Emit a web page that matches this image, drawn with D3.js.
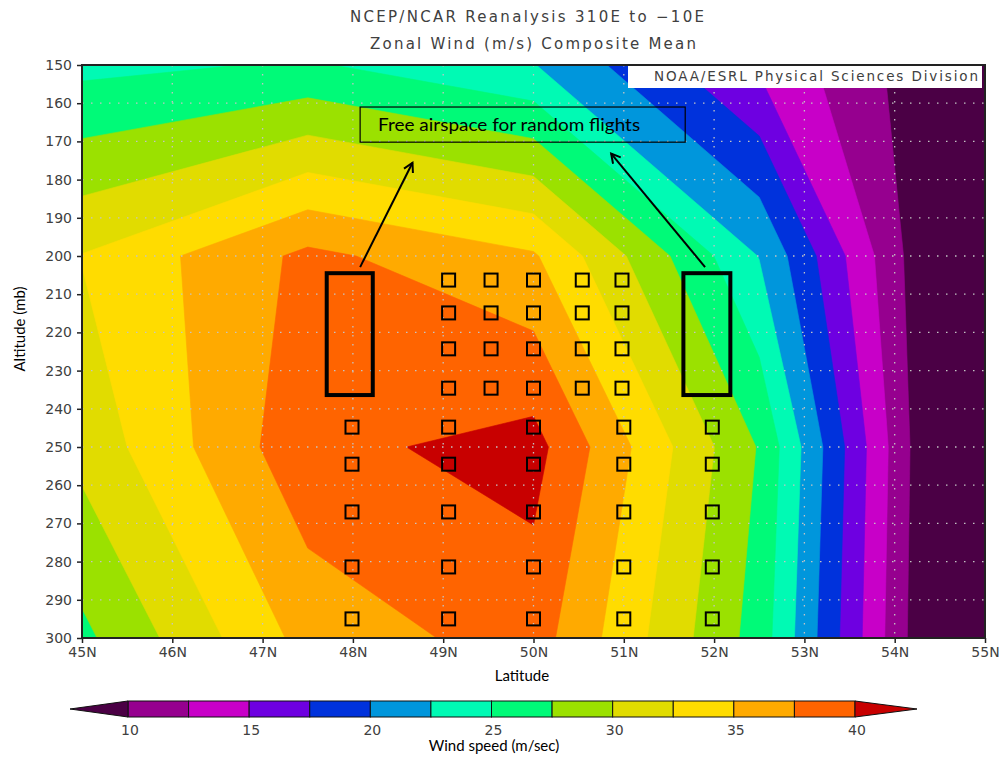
<!DOCTYPE html>
<html>
<head>
<meta charset="utf-8">
<script src="https://cdn.jsdelivr.net/npm/d3@7"></script>
<style>
body { margin: 0; background: #fff; }
svg { display: block; }
.gr { font-family: "DejaVu Sans", sans-serif; fill: #404040; }
.ann { font-family: Lato, "Open Sans", sans-serif; fill: #000; }
</style>
</head>
<body>
<script>
// page size and plot frame
const w = 1000, h = 759;
const plot = {x0: 82, x1: 985, y0: 65, y1: 638};

// reanalysis grid (2.5 deg x 50 mb), zonal wind in m/s
const lats = [45, 47.5, 50, 52.5, 55];
const levels = [150, 200, 250, 300];
const u150 = [24.3, 25.3, 22.6, 14.6, 6.3];
const u200 = [32.6, 38.1, 35.3, 22.4, 3.0];
const u250 = [30.8, 39.3, 40.9, 27.3, 1.4];
const u300 = [26.9, 35.9, 38.7, 26.4, 1.4];

// shading levels and colours (first colour is below 10, last above 40)
const thresholds = [10, 12.5, 15, 17.5, 20, 22.5, 25, 27.5, 30, 32.5, 35, 37.5, 40];
const colors = ["#4b0045", "#96008f", "#c800c8", "#6e00e1", "#0032dc", "#0096dc", "#00fab4",
                "#00fa78", "#9be100", "#e1dc00", "#ffdc00", "#ffaa00", "#ff6400", "#c80000"];
const barLabels = [10, 15, 20, 25, 30, 35, 40];

// axis ticks
const latTicks = [45, 46, 47, 48, 49, 50, 51, 52, 53, 54, 55];
const altTicks = [150, 160, 170, 180, 190, 200, 210, 220, 230, 240, 250, 260, 270, 280, 290, 300];

// annotation marks (latitude / altitude)
const upLats = [49.06, 49.53, 50.0, 50.54, 50.98];
const upAlts = [206.3, 214.9, 224.3, 234.6];
const lowLats = [47.99, 49.06, 50.0, 51.0, 51.98];
const lowAlts = [244.8, 254.5, 267.0, 281.4, 295.0];
const bigBoxLats = [[47.71, 48.22], [51.66, 52.18]];
const bigBoxAlts = [204.5, 236.4];
const arrows = [[48.08, 202.9, 48.66, 175.6], [51.9, 202.9, 50.86, 173.2]];
const noteLats = [48.08, 51.68];
const noteAlts = [161.0, 170.2];

const x = d3.scaleLinear().domain([45, 55]).range([plot.x0, plot.x1]);
const y = d3.scaleLinear().domain([150, 300]).range([plot.y0, plot.y1]);

const svg = d3.select("body").append("svg")
    .attr("width", w)
    .attr("height", h);

svg.append("defs").append("clipPath").attr("id", "clip")
  .append("rect")
    .attr("x", plot.x0).attr("y", plot.y0)
    .attr("width", plot.x1 - plot.x0).attr("height", plot.y1 - plot.y0);

// contour grid coords -> pixels (d3.contours puts value i at i + 0.5)
const gx = d3.scaleLinear().domain([0.5, lats.length - 0.5]).range([x(lats[0]), x(lats[lats.length - 1])]);
const gy = d3.scaleLinear().domain([0.5, levels.length - 0.5]).range([y(levels[0]), y(levels[levels.length - 1])]);
const proj = d3.geoTransform({
  point: function(px, py) { this.stream.point(gx(px), gy(py)); }
});
const path = d3.geoPath(proj);

const values = [].concat(u150, u200, u250, u300);
const bands = d3.contours()
    .size([lats.length, levels.length])
    .thresholds([-100].concat(thresholds))(values);

svg.append("g").attr("clip-path", "url(#clip)")
  .selectAll("path")
  .data(bands)
  .enter()
  .append("path")
    .attr("d", path)
    .attr("fill", (d, i) => colors[i])
    .attr("stroke", (d, i) => colors[i])
    .attr("stroke-width", 0.6);

// dotted grid
const grid = svg.append("g")
    .attr("stroke", "#c4c4c4")
    .attr("stroke-width", 1.3)
    .attr("stroke-dasharray", "1.5,7.5");
grid.selectAll(".gx")
  .data(latTicks.slice(1, -1))
  .enter().append("line")
    .attr("x1", d => x(d)).attr("x2", d => x(d))
    .attr("y1", plot.y0).attr("y2", plot.y1);
grid.selectAll(".gy")
  .data(altTicks.slice(1, -1))
  .enter().append("line")
    .attr("y1", d => y(d)).attr("y2", d => y(d))
    .attr("x1", plot.x0).attr("x2", plot.x1);

// axes
const yAxis = svg.append("g")
    .attr("transform", `translate(${plot.x0},0)`)
    .call(d3.axisLeft(y).tickValues(altTicks).tickSize(5).tickPadding(5));
const xAxis = svg.append("g")
    .attr("transform", `translate(0,${plot.y1})`)
    .call(d3.axisBottom(x).tickValues(latTicks).tickFormat(d => d + "N").tickSize(5).tickPadding(4));
[yAxis, xAxis].forEach(a => {
  a.select(".domain").remove();
  a.selectAll("line").attr("stroke", "#222").attr("stroke-width", 1.5);
  a.selectAll("text").attr("class", "gr").attr("font-size", 14).attr("fill", "#404040");
});

// frame
svg.append("rect")
    .attr("x", plot.x0).attr("y", plot.y0)
    .attr("width", plot.x1 - plot.x0).attr("height", plot.y1 - plot.y0)
    .attr("fill", "none")
    .attr("stroke", "#222")
    .attr("stroke-width", 2);

// titles
svg.append("text").attr("class", "gr")
    .attr("x", 350).attr("y", 22).attr("font-size", 15)
    .attr("textLength", 354).attr("lengthAdjust", "spacing")
    .text("NCEP/NCAR Reanalysis 310E to \u221210E");
svg.append("text").attr("class", "gr")
    .attr("x", 370).attr("y", 49).attr("font-size", 15)
    .attr("textLength", 326).attr("lengthAdjust", "spacing")
    .text("Zonal Wind (m/s) Composite Mean");

// credit box
svg.append("rect")
    .attr("x", 628).attr("y", 66).attr("width", 354).attr("height", 22)
    .attr("fill", "#fff");
svg.append("text").attr("class", "gr")
    .attr("x", 978).attr("y", 81).attr("font-size", 13.5)
    .attr("text-anchor", "end")
    .attr("textLength", 324).attr("lengthAdjust", "spacing")
    .attr("fill", "#303030")
    .text("NOAA/ESRL Physical Sciences Division");

// axis titles
svg.append("text").attr("class", "ann")
    .attr("transform", "translate(25,329) rotate(-90)")
    .attr("text-anchor", "middle").attr("font-size", 15)
    .text("Altitude (mb)");
svg.append("text").attr("class", "ann")
    .attr("x", 522).attr("y", 681)
    .attr("text-anchor", "middle").attr("font-size", 15)
    .text("Latitude");

// annotations
const ann = svg.append("g");
ann.append("rect")
    .attr("x", x(noteLats[0])).attr("y", y(noteAlts[0]))
    .attr("width", x(noteLats[1]) - x(noteLats[0]))
    .attr("height", y(noteAlts[1]) - y(noteAlts[0]))
    .attr("fill", "none").attr("stroke", "#000").attr("stroke-width", 1.2);
ann.append("text").attr("class", "ann")
    .attr("x", x(noteLats[0]) + 18).attr("y", y(noteAlts[1]) - 11)
    .attr("font-size", 16.5)
    .attr("textLength", 262).attr("lengthAdjust", "spacingAndGlyphs")
    .text("Free airspace for random flights");

svg.append("defs").append("marker")
    .attr("id", "head")
    .attr("viewBox", "0 0 12 12")
    .attr("refX", 10).attr("refY", 6)
    .attr("markerWidth", 12).attr("markerHeight", 12)
    .attr("markerUnits", "userSpaceOnUse")
    .attr("orient", "auto")
  .append("path")
    .attr("d", "M1,1 L10,6 L1,11")
    .attr("fill", "none").attr("stroke", "#000").attr("stroke-width", 2);

ann.selectAll(".arrow")
  .data(arrows)
  .enter().append("line")
    .attr("x1", d => x(d[0])).attr("y1", d => y(d[1]))
    .attr("x2", d => x(d[2])).attr("y2", d => y(d[3]))
    .attr("stroke", "#000").attr("stroke-width", 2)
    .attr("marker-end", "url(#head)");

ann.selectAll(".big")
  .data(bigBoxLats)
  .enter().append("rect")
    .attr("x", d => x(d[0])).attr("y", y(bigBoxAlts[0]))
    .attr("width", d => x(d[1]) - x(d[0]))
    .attr("height", y(bigBoxAlts[1]) - y(bigBoxAlts[0]))
    .attr("fill", "none").attr("stroke", "#000").attr("stroke-width", 4);

const sq = 13;
const pts = [];
upAlts.forEach(a => upLats.forEach(l => pts.push([l, a])));
lowAlts.forEach(a => lowLats.forEach(l => pts.push([l, a])));
ann.selectAll(".sq")
  .data(pts)
  .enter().append("rect")
    .attr("x", d => x(d[0]) - sq / 2).attr("y", d => y(d[1]) - sq / 2)
    .attr("width", sq).attr("height", sq)
    .attr("fill", "none").attr("stroke", "#000").attr("stroke-width", 2);

// colour bar
const cb = d3.scaleLinear().domain([10, 40]).range([128, 855]);
const cbTop = 701, cbBot = 717, cbMid = 709;
const cbar = svg.append("g");
cbar.selectAll(".box")
  .data(thresholds.slice(0, -1))
  .enter().append("rect")
    .attr("x", d => cb(d)).attr("y", cbTop)
    .attr("width", d => cb(d + 2.5) - cb(d)).attr("height", cbBot - cbTop)
    .attr("fill", (d, i) => colors[i + 1])
    .attr("stroke", "#111").attr("stroke-width", 1);
cbar.append("path")
    .attr("d", `M${cb(10)},${cbTop}L${cb(10) - 58},${cbMid}L${cb(10)},${cbBot}Z`)
    .attr("fill", colors[0]).attr("stroke", "#111").attr("stroke-width", 1);
cbar.append("path")
    .attr("d", `M${cb(40)},${cbTop}L${cb(40) + 62},${cbMid}L${cb(40)},${cbBot}Z`)
    .attr("fill", colors[colors.length - 1]).attr("stroke", "#111").attr("stroke-width", 1);
cbar.selectAll(".lab")
  .data(barLabels)
  .enter().append("text").attr("class", "gr")
    .attr("x", d => cb(d) + 2).attr("y", 735)
    .attr("text-anchor", "middle").attr("font-size", 14)
    .text(d => d);
svg.append("text").attr("class", "ann")
    .attr("x", 494).attr("y", 751)
    .attr("text-anchor", "middle").attr("font-size", 15)
    .text("Wind speed (m/sec)");
</script>
</body>
</html>
